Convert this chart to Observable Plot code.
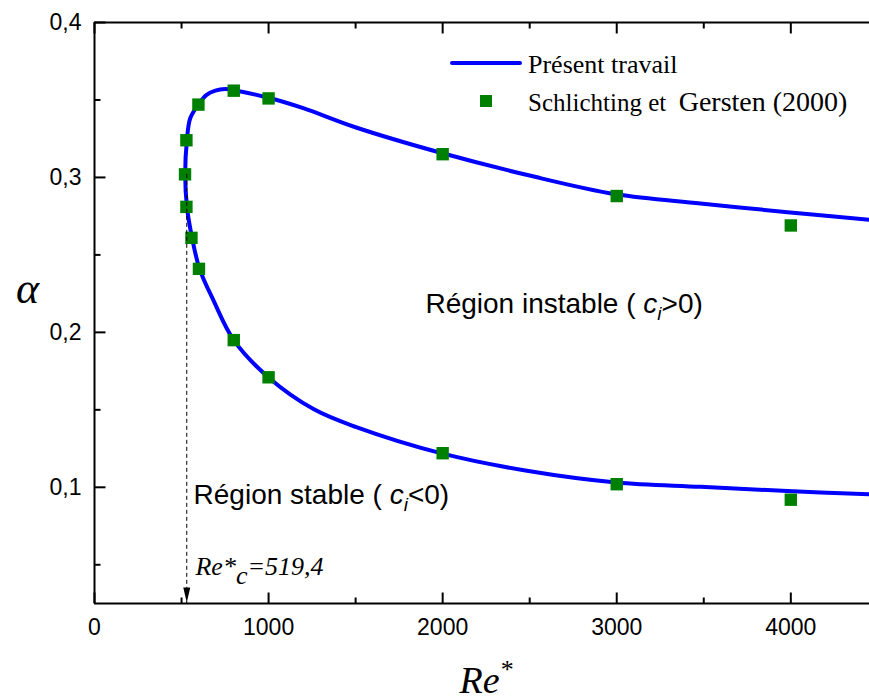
<!DOCTYPE html>
<html><head><meta charset="utf-8">
<script src="https://cdn.jsdelivr.net/npm/d3@7"></script>
<script src="https://cdn.jsdelivr.net/npm/@observablehq/plot@0.6"></script>
<style>
body{margin:0;background:#fff;}
#wrap{position:relative;width:869px;height:699px;overflow:hidden;background:#fff;}
#legend{position:absolute;left:0;top:0;}
#legend text{white-space:pre;}
</style></head><body><div id="wrap"></div>
<script>
// Neutral stability curve (Présent travail)
const curveRe = [4452, 3981, 3481, 2997, 2493, 2000, 1500, 1258, 1000, 801, 684, 603, 560, 531, 521, 531, 550, 600, 642, 694, 751, 801, 1000, 1199, 1498, 2000, 2493, 2997, 3481, 3981, 4452];
const curveAlpha = [0.0955, 0.0976, 0.1003, 0.1031, 0.1105, 0.1217, 0.139, 0.1505, 0.1709, 0.1948, 0.2205, 0.2412, 0.2613, 0.2811, 0.3022, 0.3242, 0.3382, 0.3475, 0.3531, 0.356, 0.357, 0.3563, 0.3514, 0.3447, 0.3324, 0.3156, 0.3014, 0.2891, 0.2832, 0.2776, 0.2727];
// Schlichting et Gersten (2000)
const refRe = [520, 528, 597, 800, 1000, 2000, 3000, 4000, 528, 557, 600, 800, 1000, 2000, 3000, 4000];
const refAlpha = [0.302, 0.324, 0.347, 0.356, 0.351, 0.315, 0.288, 0.269, 0.281, 0.261, 0.241, 0.195, 0.171, 0.122, 0.102, 0.092];
// axes
const xTicks = [0, 1000, 2000, 3000, 4000];
const xMinor = [500, 1500, 2500, 3500];
const yTicks = [0.1, 0.2, 0.3, 0.4];
const yMinor = [0.05, 0.15, 0.25, 0.35];
const xDomain = [0, 4452];
const yDomain = [0.025, 0.4];
// critical Reynolds marker
const critRe = [530];
const critAlpha = [0.302];
// annotations
const annText = ["Région instable ( c>0)", "Région stable ( c<0)", "Re*c=519,4"];
const annRe = [1901, 569, 580];
const annAlpha = [0.2122, 0.0889, 0.0437];

const curve = curveRe.map((r, i) => ({Re: r, a: curveAlpha[i]}));
const refs = refRe.map((r, i) => ({Re: r, a: refAlpha[i]}));
const anns = annText.map((t, i) => ({t, Re: annRe[i], a: annAlpha[i]}));
const fmtY = d => d.toFixed(1).replace(".", ",");
const serif = "'Liberation Serif','Times New Roman',serif";
const sans = "'Liberation Sans',Arial,sans-serif";

const arrowHead = {draw(ctx) { ctx.moveTo(0, 0); ctx.lineTo(-3.5, -15); ctx.lineTo(3.5, -15); ctx.closePath(); }};
const tickSym = (dx, dy) => ({draw(ctx) { ctx.moveTo(0, 0); ctx.lineTo(dx, dy); }});
const tickOpts = {stroke: "black", strokeWidth: 2, fill: "none"};

const chart = Plot.plot({
  width: 869, height: 699,
  marginLeft: 94, marginTop: 22, marginBottom: 96, marginRight: 0,
  x: {domain: xDomain},
  y: {domain: yDomain},
  style: {fontFamily: sans, fontSize: "23px", color: "black", background: "white", overflow: "hidden"},
  marks: [
    Plot.line(curve, {x: "Re", y: "a", stroke: "#0000ff", strokeWidth: 4, curve: "catmull-rom"}),
    Plot.dot(refs, {x: "Re", y: "a", symbol: "square", r: 7, fill: "#008000"}),
    Plot.ruleX(critRe.map((r, i) => ({Re: r, a: critAlpha[i]})), {x: "Re", y1: "a", y2: yDomain[0], stroke: "black", strokeWidth: 1, strokeDasharray: "4,3"}),
    Plot.dot(critRe, {x: d => d, y: () => yDomain[0], symbol: arrowHead, fill: "black", stroke: "none", dy: -1}),
    // frame spines
    Plot.ruleY(yDomain, {stroke: "black", strokeWidth: 2}),
    Plot.ruleX([xDomain[0]], {stroke: "black", strokeWidth: 2}),
    // inward ticks
    Plot.dot(xTicks, {x: d => d, y: () => yDomain[0], symbol: tickSym(0, -11), ...tickOpts}),
    Plot.dot(xMinor, {x: d => d, y: () => yDomain[0], symbol: tickSym(0, -6), ...tickOpts}),
    Plot.dot(xTicks, {x: d => d, y: () => yDomain[1], symbol: tickSym(0, 11), ...tickOpts}),
    Plot.dot(xMinor, {x: d => d, y: () => yDomain[1], symbol: tickSym(0, 6), ...tickOpts}),
    Plot.dot(yTicks, {x: () => xDomain[0], y: d => d, symbol: tickSym(11, 0), ...tickOpts}),
    Plot.dot(yMinor, {x: () => xDomain[0], y: d => d, symbol: tickSym(6, 0), ...tickOpts}),
    // tick labels
    Plot.axisX({anchor: "bottom", ticks: xTicks, tickSize: 0, tickPadding: 15, fontSize: 23, tickFormat: d => String(d), label: null}),
    Plot.axisY({anchor: "left", ticks: yTicks, tickSize: 0, tickPadding: 13, fontSize: 23, tickFormat: fmtY, label: null}),
    // annotations
    Plot.text(anns.slice(0, 2), {x: "Re", y: "a", text: "t", textAnchor: "start", lineAnchor: "bottom", fontSize: 28, fontFamily: sans}),
    Plot.text(anns.slice(2), {x: "Re", y: "a", text: "t", textAnchor: "start", lineAnchor: "bottom", fontSize: 26, fontFamily: serif, fontStyle: "italic"}),
    // axis titles
    Plot.text(["α"], {frameAnchor: "left", textAnchor: "middle", dx: -67, dy: -24, fontSize: 44, fontFamily: serif, fontStyle: "italic"}),
    Plot.text(["Re*"], {frameAnchor: "bottom", dx: 4, dy: 89, lineAnchor: "bottom", fontSize: 38, fontFamily: serif, fontStyle: "italic"})
  ]
});

// rich text: subscripts / superscripts
function rich(marker, parts) {
  d3.select(chart).selectAll("text").filter(function() { return this.textContent === marker; }).each(function() {
    const t = d3.select(this);
    t.text(null);
    for (const p of parts) {
      const s = t.append("tspan").text(p.t);
      if (p.italic) s.attr("font-style", "italic");
      if (p.size) s.attr("font-size", p.size);
      if (p.dy) s.attr("dy", p.dy);
    }
  });
}
rich("Région instable ( c>0)", [{t: "Région instable ( "}, {t: "c", italic: true}, {t: "i", italic: true, size: 19, dy: 7}, {t: ">0)", dy: -7}]);
rich("Région stable ( c<0)", [{t: "Région stable ( "}, {t: "c", italic: true}, {t: "i", italic: true, size: 19, dy: 7}, {t: "<0)", dy: -7}]);
rich("Re*c=519,4", [{t: "Re*"}, {t: "c", dy: 9}, {t: "=519,4", dy: -9}]);
rich("Re*", [{t: "Re"}, {t: "*", size: 26, dy: -15}]);

const wrap = document.getElementById("wrap");
wrap.appendChild(chart);

// legend
const leg = d3.select(wrap).append("svg").attr("id", "legend").attr("width", 869).attr("height", 699)
  .style("pointer-events", "none");
leg.append("line").attr("x1", 452).attr("x2", 520).attr("y1", 63).attr("y2", 63).attr("stroke", "#0000ff").attr("stroke-width", 4).attr("stroke-linecap", "round");
leg.append("text").attr("x", 528).attr("y", 73).attr("font-family", serif).attr("font-size", 26).text("Présent travail");
leg.append("rect").attr("x", 480).attr("y", 95).attr("width", 12).attr("height", 12).attr("fill", "#008000");
const t2 = leg.append("text").attr("x", 528).attr("y", 111).attr("font-family", serif);
t2.append("tspan").attr("font-size", 25).text("Schlichting et  ");
t2.append("tspan").attr("font-size", 28).text("Gersten (2000)");
</script>
</body></html>
